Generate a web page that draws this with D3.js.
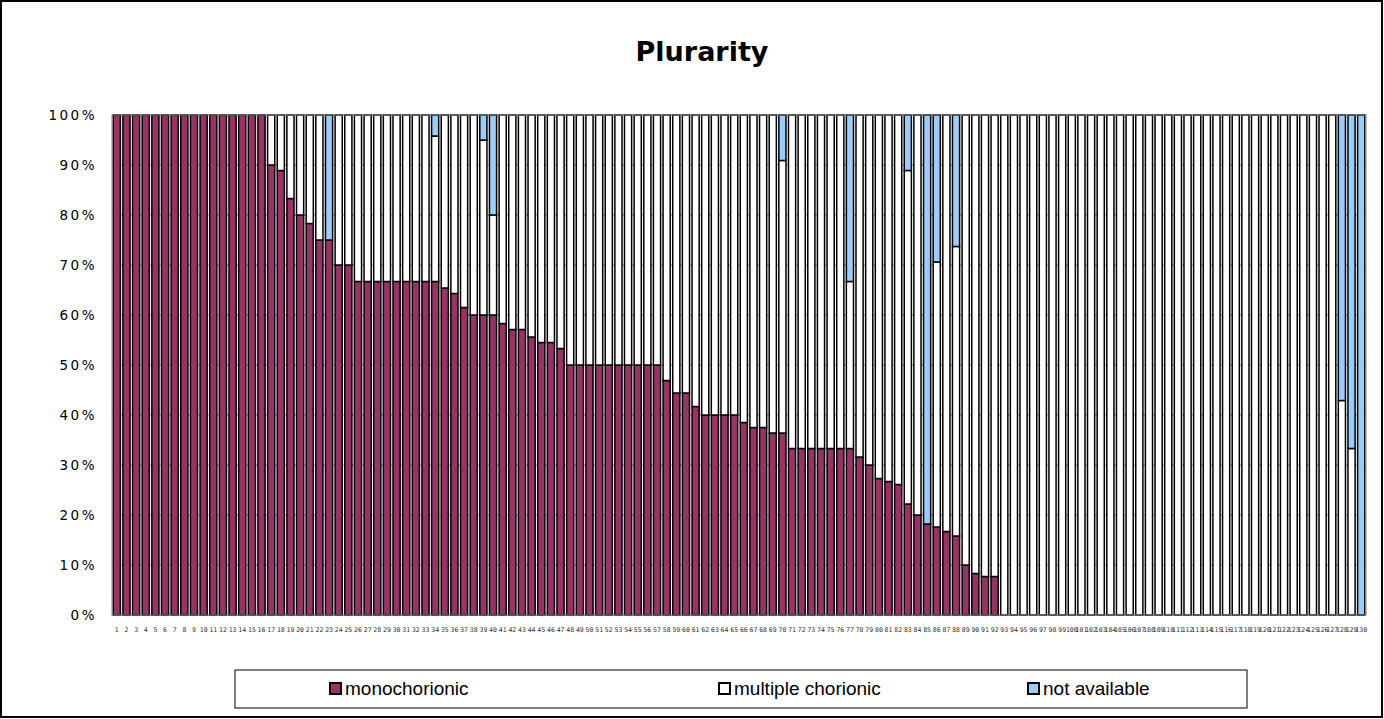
<!DOCTYPE html>
<html><head><meta charset="utf-8">
<script src="https://cdn.jsdelivr.net/npm/d3@7"></script>
<style>body{margin:0;background:#fff}svg{display:block}</style>
</head><body>
<svg id="c" width="1384" height="719"></svg>
<script>
const title = "Plurarity";
const seriesNames = ["monochorionic", "multiple chorionic", "not available"];
const seriesColors = ["#993366", "#ffffff", "#99ccff"];
const yTicks = [0, 10, 20, 30, 40, 50, 60, 70, 80, 90, 100];
const categories = d3.range(1, 131).map(String);

const mono = [
 100,100,100,100,100,100,100,100,100,100,100,100,100,100,100,100,
 90,88.9,83.3,80,78.3,75,75,70,70,
 66.7,66.7,66.7,66.7,66.7,66.7,66.7,66.7,66.7,
 65.4,64.3,61.5,60,60,60,
 58.3,57.1,57.1,55.6,54.5,54.5,53.3,
 50,50,50,50,50,50,50,50,50,50,
 46.9,44.4,44.4,41.7,
 40,40,40,40,
 38.5,37.5,37.5,36.4,36.4,
 33.3,33.3,33.3,33.3,33.3,33.3,33.3,
 31.6,30,27.3,26.7,26.1,22.2,20,18.2,17.6,16.7,15.8,10,8.3,7.7,7.7,
 0,0,0,0,0,0,0,0,0,0,0,0,0,0,0,0,0,0,0,0,0,0,0,0,0,0,0,0,0,0,0,0,0,0,0,0,0,0
];
const multi = [
 0,0,0,0,0,0,0,0,0,0,0,0,0,0,0,0,
 10,11.1,16.7,20,21.7,25,0,30,30,
 33.3,33.3,33.3,33.3,33.3,33.3,33.3,33.3,29.1,
 34.6,35.7,38.5,40,35,20,
 41.7,42.9,42.9,44.4,45.5,45.5,46.7,
 50,50,50,50,50,50,50,50,50,50,
 53.1,55.6,55.6,58.3,
 60,60,60,60,
 61.5,62.5,62.5,63.6,54.5,
 66.7,66.7,66.7,66.7,66.7,66.7,33.4,
 68.4,70,72.7,73.3,73.9,66.7,80,0,53,83.3,57.9,90,91.7,92.3,92.3,
 100,100,100,100,100,100,100,100,100,100,100,100,100,100,100,100,100,100,100,100,
 100,100,100,100,100,100,100,100,100,100,100,100,100,100,100,42.9,33.3,0
];
const notAvail = [
 0,0,0,0,0,0,0,0,0,0,0,0,0,0,0,0,
 0,0,0,0,0,0,25,0,0,
 0,0,0,0,0,0,0,0,4.2,
 0,0,0,0,5,20,
 0,0,0,0,0,0,0,
 0,0,0,0,0,0,0,0,0,0,
 0,0,0,0,
 0,0,0,0,
 0,0,0,0,9.1,
 0,0,0,0,0,0,33.3,
 0,0,0,0,0,11.1,0,81.8,29.4,0,26.3,0,0,0,0,
 0,0,0,0,0,0,0,0,0,0,0,0,0,0,0,0,0,0,0,0,
 0,0,0,0,0,0,0,0,0,0,0,0,0,0,0,57.1,66.7,100
];

const rows = categories.map((c, i) => ({cat: c, m: mono[i], u: multi[i], n: notAvail[i]}));
const stack = d3.stack().keys(["m", "u", "n"])(rows);

const svg = d3.select("#c");
svg.append("rect").attr("x", 1).attr("y", 1).attr("width", 1381).attr("height", 716)
  .attr("fill", "#fff").attr("stroke", "#000").attr("stroke-width", 2);

const L = 112, R = 1366, T = 115, B = 615;
const x = d3.scaleBand().domain(categories).range([L, R]).paddingInner(0.26).paddingOuter(0.13);
const y = d3.scaleLinear().domain([0, 100]).range([B, T]);

svg.append("text").attr("x", 702).attr("y", 61).attr("text-anchor", "middle")
  .attr("font-family", "DejaVu Sans, Verdana, sans-serif").attr("font-weight", "bold")
  .attr("font-size", 27).text(title);

// gridlines
svg.append("g").selectAll("line").data(yTicks).join("line")
  .attr("x1", L).attr("x2", R).attr("y1", d => y(d)).attr("y2", d => y(d))
  .attr("stroke", "#808080").attr("stroke-width", 1);

// bars
const g = svg.append("g");
stack.forEach((s, si) => {
  g.append("g").selectAll("rect").data(s.filter(d => d[1] - d[0] > 0)).join("rect")
    .attr("x", d => x(d.data.cat))
    .attr("width", x.bandwidth())
    .attr("y", d => y(d[1]))
    .attr("height", d => y(d[0]) - y(d[1]))
    .attr("fill", seriesColors[si])
    .attr("stroke", "#000").attr("stroke-width", 1.5);
});

// plot border
svg.append("rect").attr("x", L).attr("y", T).attr("width", R - L).attr("height", B - T)
  .attr("fill", "none").attr("stroke", "#808080").attr("stroke-width", 1);

// y axis
const yAxis = d3.axisLeft(y).tickValues(yTicks).tickSize(0).tickPadding(15).tickFormat(d => d + "%");
const ya = svg.append("g").attr("transform", `translate(${L},0)`).call(yAxis);
ya.select(".domain").remove();
ya.selectAll("text").attr("font-family", "DejaVu Sans, sans-serif").attr("font-size", 13.5)
  .attr("letter-spacing", "2.5px").attr("fill", "#000");

// x axis
const xAxis = d3.axisBottom(x).tickSize(0).tickPadding(12);
const xa = svg.append("g").attr("transform", `translate(0,${B})`).call(xAxis);
xa.select(".domain").remove();
xa.selectAll("text").attr("font-family", "DejaVu Sans Mono, monospace").attr("font-size", 6.5)
  .attr("fill", "#333");

// legend
const lg = svg.append("g");
lg.append("rect").attr("x", 235).attr("y", 670).attr("width", 1012).attr("height", 38)
  .attr("fill", "#fff").attr("stroke", "#000").attr("stroke-width", 1);
const legX = [330, 719, 1028];
seriesNames.forEach((nm, i) => {
  lg.append("rect").attr("x", legX[i]).attr("y", 683).attr("width", 11).attr("height", 11)
    .attr("fill", seriesColors[i]).attr("stroke", "#000").attr("stroke-width", 2);
  lg.append("text").attr("x", legX[i] + 15).attr("y", 695)
    .attr("font-family", "Liberation Sans, Arial, sans-serif").attr("font-size", 19)
    .text(nm);
});
</script>
</body></html>
